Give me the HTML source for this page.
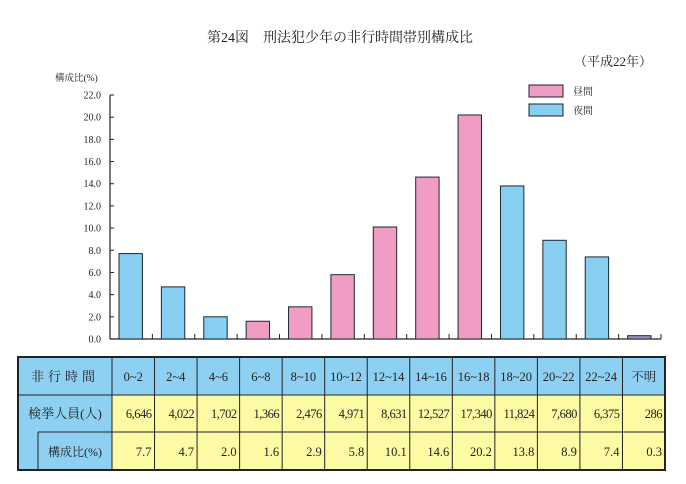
<!DOCTYPE html>
<html><head><meta charset="utf-8"><style>
body{margin:0;background:#fff;width:686px;height:479px;overflow:hidden;font-family:"Liberation Serif","Noto Serif CJK SC",serif;}
svg text{font-family:"Liberation Serif","Noto Serif CJK SC",serif;fill:#222;}
</style></head><body>
<svg id="c" width="686" height="479">
<text x="340" y="42" font-size="14" text-anchor="middle">第24図　刑法犯少年の非行時間帯別構成比</text>
<text x="652" y="66" font-size="13" text-anchor="end">（平成22年）</text>
<text x="55" y="81" font-size="9.5">構成比(%)</text>
<g id="axes"></g><g id="bars"></g>
<rect x="529" y="85" width="34" height="12" fill="#f09cc4" stroke="#222"/>
<text x="573" y="95" font-size="10">昼間</text>
<rect x="529" y="104" width="34" height="12" fill="#87cef0" stroke="#222"/>
<text x="573" y="114" font-size="10">夜間</text>
<g id="table"></g>
</svg>
<script>
const categories=["0~2","2~4","4~6","6~8","8~10","10~12","12~14","14~16","16~18","18~20","20~22","22~24","不明"];
const ratios=[7.7,4.7,2.0,1.6,2.9,5.8,10.1,14.6,20.2,13.8,8.9,7.4,0.3];
const counts=["6,646","4,022","1,702","1,366","2,476","4,971","8,631","12,527","17,340","11,824","7,680","6,375","286"];
const ratioLabels=["7.7","4.7","2.0","1.6","2.9","5.8","10.1","14.6","20.2","13.8","8.9","7.4","0.3"];
const period=["n","n","n","d","d","d","d","d","d","n","n","n","u"];
const yTicks=[0,2,4,6,8,10,12,14,16,18,20,22];
const NS="http://www.w3.org/2000/svg";
const X0=110,X1=661,Y0=339,YT=95,YMAX=22;
const bw=(X1-X0)/categories.length;
const y=v=>Y0-(v/YMAX)*(Y0-YT);
const x=i=>X0+i*bw;
function mk(tag,attrs,parent,txt){const e=document.createElementNS(NS,tag);for(const k in attrs)e.setAttribute(k,attrs[k]);if(txt!==undefined)e.textContent=txt;parent.appendChild(e);return e;}
const ax=document.getElementById('axes');
let e=mk('line',{x1:X0,y1:YT,x2:X0,y2:Y0,stroke:'#222','stroke-width':1.2},ax);


e=mk('line',{x1:X0,y1:Y0,x2:X1,y2:Y0,stroke:'#222','stroke-width':1.2},ax);


yTicks.forEach(t=>{
 mk('line',{x1:X0,y1:y(t),x2:X0+4,y2:y(t),stroke:'#222'},ax);
 e=mk('text',{x:X0-9,y:y(t)+3.5,'font-size':10,'text-anchor':'end'},ax,t.toFixed(1));
 
 
});
for(let i=1;i<=categories.length;i++){mk('line',{x1:x(i),y1:Y0-5,x2:x(i),y2:Y0,stroke:'#222'},ax);}
const bg=document.getElementById('bars');
ratios.forEach((v,i)=>{
 const col=period[i]==='d'?'#f09cc4':period[i]==='n'?'#87cef0':'#9a90c0';
 e=mk('rect',{x:x(i)+9,y:y(v),width:bw-19,height:Y0-y(v),fill:col,stroke:'#1a2a30','stroke-width':1},bg);
 
 
});
const tb=document.getElementById('table');
const TL=18,C0=112,TR=665,R=[357,395,432,470];
const cw=(TR-C0)/categories.length;
// backgrounds
mk('rect',{x:TL,y:R[0],width:TR-TL,height:R[1]-R[0],fill:'#8ed0f2'},tb);
mk('rect',{x:TL,y:R[1],width:C0-TL,height:R[3]-R[1],fill:'#8ed0f2'},tb);
mk('rect',{x:C0,y:R[1],width:TR-C0,height:R[3]-R[1],fill:'#fdfaa4'},tb);
// lines
mk('rect',{x:TL,y:R[0],width:TR-TL,height:R[3]-R[0],fill:'none',stroke:'#222','stroke-width':2},tb);
mk('line',{x1:TL,y1:R[1],x2:TR,y2:R[1],stroke:'#222'},tb);
mk('line',{x1:38,y1:R[2],x2:TR,y2:R[2],stroke:'#222'},tb);
mk('line',{x1:38,y1:R[2],x2:38,y2:R[3],stroke:'#222'},tb);
for(let i=0;i<categories.length;i++){mk('line',{x1:C0+i*cw,y1:R[0],x2:C0+i*cw,y2:R[3],stroke:'#222'},tb);}
e=mk('text',{x:65,y:381,'font-size':13,'text-anchor':'middle','letter-spacing':'4'},tb,'非行時間');


e=mk('text',{x:65,y:418,'font-size':13,'text-anchor':'middle'},tb,'検挙人員(人)');


e=mk('text',{x:75,y:456,'font-size':12,'text-anchor':'middle'},tb,'構成比(%)');


categories.forEach((c,i)=>{
 e=mk('text',{x:C0+i*cw+cw/2,y:381,'font-size':12.5,'text-anchor':'middle'},tb,c);
 
 
 e=mk('text',{x:C0+(i+1)*cw-3,y:418,'font-size':12.5,'text-anchor':'end','letter-spacing':'-0.5'},tb,counts[i]);
 
 
 e=mk('text',{x:C0+(i+1)*cw-3,y:456,'font-size':12.5,'text-anchor':'end'},tb,ratioLabels[i]);
 
 
});
</script>
</body></html>
